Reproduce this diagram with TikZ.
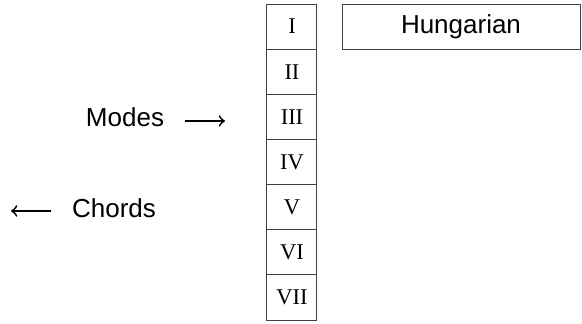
\documentclass[tikz,border=0pt]{standalone}
\usepackage{fontspec}
\setmainfont{Liberation Serif}
\setsansfont{Liberation Sans}
\usetikzlibrary{positioning}

\begin{document}
\begin{tikzpicture}[x=0.4pt, y=-0.4pt, node distance=0pt,
    cell/.style={draw=black!75, line width=0.4pt, inner sep=0pt, outer sep=0pt,
      minimum width=20pt, minimum height=18.06pt, font=\fontsize{9}{10}\selectfont},
    label/.style={inner sep=0pt, font=\sffamily\fontsize{10.4}{12}\selectfont}]
  \useasboundingbox (0,0) rectangle (582,324);
  % column of degrees
  \node[cell] (c1) at (292,26.6) {I};
  \foreach \name [count=\i from 2, count=\prev from 1] in {II,III,IV,V,VI,VII}
    \node[cell, below=of c\prev] (c\i) {\name};
  \node[cell, right=10pt of c1, minimum width=95.2pt, font=\sffamily\fontsize{10.4}{12}\selectfont] (scale) {Hungarian};
  % labels on the left
  \node[label] (modes) at (125,117) {Modes};
  \node[label] (chords) at (114,208) {Chords};
  \coordinate (m1) at (185,121);
  \coordinate (m2) at (225,121);
  \coordinate (k1) at (51,211);
  \coordinate (k2) at (11,211);
  \draw[->, line width=0.75pt] (m1) -- (m2);
  \draw[->, line width=0.75pt] (k1) -- (k2);
\end{tikzpicture}
\end{document}
